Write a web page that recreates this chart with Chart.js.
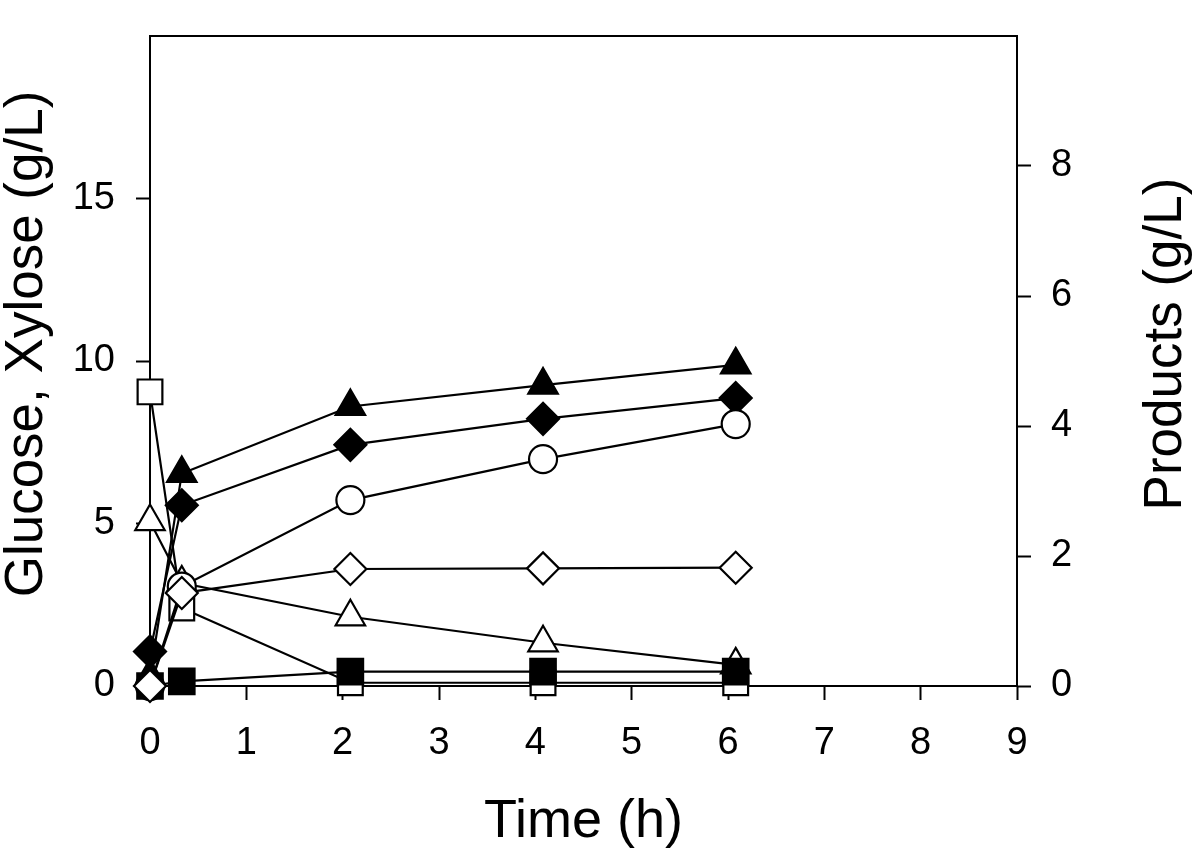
<!DOCTYPE html>
<html>
<head>
<meta charset="utf-8">
<title>Glucose, Xylose and Products</title>
<script src="https://cdn.jsdelivr.net/npm/chart.js@4"></script>
<style>
  body { margin: 0; background: #fff; }
  #wrap { width: 1200px; height: 855px; }
</style>
</head>
<body>
<div id="wrap"><canvas id="chart" width="1200" height="855"></canvas></div>
<script>
// --- Data ---

const timeH = [0, 0.33, 2.08, 4.08, 6.08];

// left axis: Glucose, Xylose (g/L)
const glucose = [9.05, 2.40, 0.10, 0.10, 0.10];   // open square
const xylose = [5.06, 3.17, 2.13, 1.33, 0.65];    // open triangle

// right axis: Products (g/L)
const prodTriangle = [0.15, 3.27, 4.30, 4.63, 4.94]; // filled triangle
const prodDiamond = [0.53, 2.78, 3.71, 4.11, 4.43];  // filled diamond
const prodCircle = [0.00, 1.53, 2.86, 3.49, 4.03];   // open circle
const prodOpenDiamond = [0.00, 1.43, 1.80, 1.81, 1.82]; // open diamond
const prodSquare = [0.00, 0.07, 0.22, 0.22, 0.22];   // filled square

const leftTitle = 'Glucose, Xylose (g/L)';
const rightTitle = 'Products (g/L)';
const xTitle = 'Time (h)';

const FONT = '"Liberation Sans", Arial, Helvetica, sans-serif';

// --- Helpers ---

function series(label, values, axis, style, filled, radius, order) {
    return {
        label: label,
        yAxisID: axis,
        data: timeH.map((t, i) => ({ x: t, y: values[i] })),
        pointStyle: style,
        pointRadius: radius,
        pointHoverRadius: radius,
        pointBackgroundColor: filled ? '#000' : '#fff',
        pointBorderColor: '#000',
        pointBorderWidth: 2.2,
        borderColor: '#000',
        borderWidth: 2.2,
        tension: 0,
        fill: false,
        clip: false,
        order: order,
    };
}

function dropTopTick(scale) {
    scale.ticks = scale.ticks.filter(t => t.value < scale.max);
}

// fixed axis box size, no extra label padding pushing the plot area
function fixSize(prop, size) {
    return s => {
        s[prop] = size;
        s.paddingTop = 0;
        s.paddingBottom = 0;
        s.paddingLeft = 0;
        s.paddingRight = 0;
    };
}

function axisGrid() {
    return {
        drawOnChartArea: false,
        drawTicks: true,
        tickLength: 14,
        tickWidth: 2,
        tickColor: '#000',
    };
}

// frame top line + vertical axis titles (both read bottom-to-top)
const framePlugin = {
    id: 'framePlugin',
    afterDraw(chart) {
        const { ctx, chartArea, scales } = chart;
        ctx.save();
        ctx.strokeStyle = '#000';
        ctx.lineWidth = 2;
        ctx.beginPath();
        ctx.moveTo(chartArea.left - 1, chartArea.top);
        ctx.lineTo(chartArea.right + 1, chartArea.top);
        ctx.stroke();

        const midY = (chartArea.top + chartArea.bottom) / 2 - 17;
        ctx.fillStyle = '#000';
        ctx.font = '53px ' + FONT;
        ctx.textAlign = 'center';
        ctx.textBaseline = 'middle';
        [[scales.y.left + 27, leftTitle], [scales.y2.right - 34, rightTitle]].forEach(([x, text]) => {
            ctx.save();
            ctx.translate(x, midY);
            ctx.rotate(-Math.PI / 2);
            ctx.fillText(text, 0, 0);
            ctx.restore();
        });
        ctx.restore();
    },
};

// --- Chart ---

const tickFont = { family: FONT, size: 38 };

new Chart(document.getElementById('chart').getContext('2d'), {
    type: 'line',
    data: {
        datasets: [
            series('Glucose', glucose, 'y', 'rect', false, 17.5, 6),
            series('Xylose', xylose, 'y', 'triangle', false, 17, 5),
            series('Product 1', prodTriangle, 'y2', 'triangle', true, 17, 4),
            series('Product 2', prodDiamond, 'y2', 'rectRot', true, 16, 3),
            series('Product 3', prodCircle, 'y2', 'circle', false, 14, 2),
            series('Product 4', prodSquare, 'y2', 'rect', true, 18, 1),
            series('Product 5', prodOpenDiamond, 'y2', 'rectRot', false, 16, 0),
        ],
    },
    options: {
        responsive: false,
        animation: false,
        layout: { padding: { top: 36, left: 0, right: 0, bottom: 0 } },
        plugins: {
            legend: { display: false },
            tooltip: { enabled: false },
        },
        scales: {
            x: {
                type: 'linear',
                position: 'bottom',
                min: 0,
                max: 9,
                ticks: { stepSize: 1, color: '#000', font: tickFont, padding: 21, maxRotation: 0 },
                grid: axisGrid(),
                border: { color: '#000', width: 2 },
                title: {
                    display: true,
                    text: xTitle,
                    color: '#000',
                    font: { family: FONT, size: 54, lineHeight: 1 },
                    padding: { top: 0, bottom: 6 },
                },
                afterFit: fixSize('height', 169),
            },
            y: {
                type: 'linear',
                position: 'left',
                min: 0,
                max: 20,
                ticks: { stepSize: 5, color: '#000', font: tickFont, padding: 21 },
                grid: axisGrid(),
                border: { color: '#000', width: 2 },
                afterBuildTicks: dropTopTick,
                afterFit: fixSize('width', 150),
            },
            y2: {
                type: 'linear',
                position: 'right',
                min: 0,
                max: 10,
                ticks: { stepSize: 2, color: '#000', font: tickFont, padding: 20 },
                grid: axisGrid(),
                border: { color: '#000', width: 2 },
                afterBuildTicks: dropTopTick,
                afterFit: fixSize('width', 183),
            },
        },
    },
    plugins: [framePlugin],
});
</script>
</body>
</html>
